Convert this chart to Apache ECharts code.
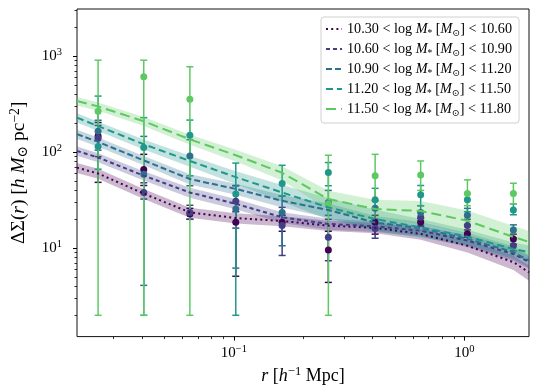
<!DOCTYPE html>
<html>
<head>
<meta charset="utf-8">
<script src="https://cdn.jsdelivr.net/npm/echarts@6/dist/echarts.min.js"></script>
<style>
  html, body { margin: 0; padding: 0; background: #fff; }
  #chart { width: 539px; height: 390px; }
</style>
</head>
<body>
<div id="chart"></div>
<script>
// stellar-mass bins (log M*)
const binLo = ['10.30', '10.60', '10.90', '11.20', '11.50'];
const binHi = ['10.60', '10.90', '11.20', '11.50', '11.80'];

// model curves: r in h^-1 Mpc, ΔΣ in h M_sun pc^-2, band = fractional half width
const modelR = [0.0209, 0.0258, 0.0407, 0.0645, 0.102, 0.162, 0.257, 0.41, 0.646, 1.03, 1.63, 1.905];
const model1 = [69, 60, 37, 23.6, 20.6, 19.2, 17.2, 16.3, 14.1, 10.6, 7.15, 5.6];
const model2 = [103, 88, 57, 38, 29, 21, 17.9, 16.9, 15.2, 12, 8.7, 7.2];
const model3 = [154, 128, 82, 52.5, 41.4, 31.2, 25, 18.5, 16.2, 12.5, 9.1, 7.4];
const model4 = [229, 187, 121, 81, 55, 38, 26.6, 20.1, 16.5, 13.2, 9.8, 9.1];
const model5 = [341, 300, 210, 136, 93, 61, 32.5, 25.6, 24.4, 19.3, 13.1, 11.6];
const band1 = [0.12, 0.12, 0.12, 0.12, 0.12, 0.12, 0.12, 0.12, 0.13, 0.15, 0.17, 0.18];
const band2 = [0.11, 0.11, 0.11, 0.12, 0.12, 0.13, 0.13, 0.13, 0.13, 0.14, 0.15, 0.15];
const band3 = [0.11, 0.11, 0.11, 0.12, 0.13, 0.15, 0.17, 0.17, 0.16, 0.15, 0.15, 0.15];
const band4 = [0.11, 0.11, 0.12, 0.13, 0.15, 0.2, 0.25, 0.25, 0.22, 0.18, 0.17, 0.17];
const band5 = [0.1, 0.1, 0.11, 0.12, 0.14, 0.17, 0.22, 0.25, 0.27, 0.28, 0.3, 0.3];

// measurements with error bars
const dataR = [0.0258, 0.0407, 0.0645, 0.102, 0.162, 0.257, 0.41, 0.646, 1.03, 1.63];
const obs1 = [147, 66, 22.7, 18.6, 18.6, 9.6, 18.6, 18.6, 14.1, 12.5];
const lo1 = [48.5, 45, 20, 5.1, 15, 4.4, 14, 16.9, 13, 11];
const hi1 = [204, 95, 26, 24, 22, 15, 22, 20.5, 15.5, 14];
const obs2 = [140, 38, 23.5, 30.8, 17.2, 13, 16, 21, 17.2, 10.6];
const lo2 = [90, 32.5, 20, 16.2, 8.4, 7.4, 12.7, 17.2, 14, 9.4];
const hi2 = [190, 48, 28, 45, 26.6, 20, 20, 24, 20, 12.6];
const obs3 = [165, 59, 91, 25.6, 23.6, 30, 26, 23.6, 22, 15.5];
const lo3 = [105, 4.1, 44.7, 6.2, 10.6, 22, 20, 19.4, 17.5, 12.7];
const hi3 = [215, 146, 135, 44.6, 35, 40, 31.4, 27.7, 26, 17.5];
const obs4 = [114.6, 112, 150, 36.6, 47.3, 61.5, 32, 36, 31.9, 25];
const lo4 = [66.5, 2, 56.7, 2, 35, 44.7, 26, 27.7, 24, 22.3];
const hi4 = [384, 229, 216, 77, 73, 78, 42, 45, 37, 29];
const obs5 = [267, 611, 355, null, null, 29, 56.7, 58, 37.2, 37.2];
const lo5 = [2, 2, 2, null, null, 2, 31, 40, 27.7, 29];
const hi5 = [908, 908, 776, null, null, 93, 95, 81, 51.5, 47.5];

// axis ranges and ticks
const xMin = 0.0209, xMax = 1.905, yMin = 1.2, yMax = 3100;
const xMajor = [0.1, 1];
const xMinor = [0.03, 0.04, 0.05, 0.06, 0.07, 0.08, 0.09, 0.2, 0.3, 0.4, 0.5, 0.6, 0.7, 0.8, 0.9];
const yMajor = [10, 100, 1000];
const yMinor = [2, 3, 4, 5, 6, 7, 8, 9, 20, 30, 40, 50, 60, 70, 80, 90,
  200, 300, 400, 500, 600, 700, 800, 900, 2000, 3000];

const models = [model1, model2, model3, model4, model5];
const bands = [band1, band2, band3, band4, band5];
const obs = [obs1, obs2, obs3, obs4, obs5];
const los = [lo1, lo2, lo3, lo4, lo5];
const his = [hi1, hi2, hi3, hi4, hi5];

const colors = ['#440154', '#433e85', '#2d708e', '#1f988b', '#5ec962'];
const dashes = [[2, 3.2], [4, 3], [6, 3], [7, 4], [10, 5]];
const FONT = 'Liberation Serif, DejaVu Serif, serif';
const L = Math.log10;
const names = binLo.map((lo, i) => lo + ' < log M* [M⊙] < ' + binHi[i]);

const series = [];
models.forEach((m, i) => {
  const c = colors[i];
  const w = bands[i];
  // shaded band: one polygon through the model's upper and lower edges
  series.push({
    type: 'custom', silent: true,
    encode: { x: 0, y: 1 },
    data: [[L(modelR[0]), L(m[0])]],
    renderItem: (params, api) => {
      const up = modelR.map((r, k) => api.coord([L(r), L(m[k] * (1 + w[k]))]));
      const dn = modelR.map((r, k) => api.coord([L(r), L(m[k] * (1 - w[k]))])).reverse();
      return { type: 'polygon', shape: { points: up.concat(dn) }, style: { fill: c, opacity: 0.28 } };
    }
  });
  series.push({
    type: 'line', name: names[i], symbol: 'none',
    lineStyle: { color: c, width: 2, type: dashes[i] },
    itemStyle: { color: c },
    data: modelR.map((r, k) => [L(r), L(m[k])])
  });
  const pts = [];
  dataR.forEach((r, k) => {
    if (obs[i][k] == null) return;
    pts.push([L(r), L(obs[i][k]), L(los[i][k]), L(his[i][k])]);
  });
  series.push({
    type: 'custom', silent: true,
    encode: { x: 0, y: 1 },
    data: pts,
    renderItem: (params, api) => {
      const x = api.value(0);
      const a = api.coord([x, api.value(2)]);
      const b = api.coord([x, api.value(3)]);
      const hw = 3.5;
      const st = { stroke: c, lineWidth: 1.5 };
      return {
        type: 'group',
        children: [
          { type: 'line', shape: { x1: a[0], y1: a[1], x2: b[0], y2: b[1] }, style: st },
          { type: 'line', shape: { x1: a[0] - hw, y1: a[1], x2: a[0] + hw, y2: a[1] }, style: st },
          { type: 'line', shape: { x1: b[0] - hw, y1: b[1], x2: b[0] + hw, y2: b[1] }, style: st }
        ]
      };
    }
  });
  series.push({
    type: 'scatter', symbolSize: 7, silent: true,
    itemStyle: { color: c, opacity: 1 },
    data: pts.map(p => [p[0], p[1]])
  });
});

const tickRich = {
  b: { fontFamily: FONT, fontSize: 15, color: '#000', lineHeight: 18 },
  s: { fontFamily: FONT, fontSize: 10.5, color: '#000', lineHeight: 10, verticalAlign: 'top' }
};
const powLabel = v => '{b|10}{s|' + String(Math.round(v)).replace('-', '−') + '}';

const nameRich = size => ({
  t: { fontFamily: FONT, fontSize: size, color: '#000', lineHeight: 22 },
  i: { fontFamily: FONT, fontSize: size, fontStyle: 'italic', color: '#000', lineHeight: 22 },
  s: { fontFamily: FONT, fontSize: size * 0.7, color: '#000', lineHeight: 12, verticalAlign: 'bottom' },
  p: { fontFamily: FONT, fontSize: size * 0.7, color: '#000', lineHeight: 12, verticalAlign: 'top' }
});

const chart = echarts.init(document.getElementById('chart'));
chart.setOption({
  animation: false,
  backgroundColor: '#fff',
  grid: {
    left: 69, right: 10, top: 9, bottom: 52,
    show: true, borderColor: '#111', borderWidth: 1, backgroundColor: 'transparent'
  },
  legend: {
    data: names,
    orient: 'vertical',
    left: 321, top: 17,
    padding: [5, 7, 5, 4],
    itemWidth: 16, itemHeight: 10, itemGap: 4,
    itemStyle: { color: 'rgba(0,0,0,0)', borderWidth: 0, opacity: 0 },
    backgroundColor: 'rgba(255,255,255,0.8)',
    borderColor: '#d0d0d0', borderWidth: 1, borderRadius: 3,
    formatter: name => {
      const k = names.indexOf(name);
      return '{t|' + binLo[k] + ' < log }{i|M}{s|*}{t| [}{i|M}{s|⊙}{t|] < ' + binHi[k] + '}';
    },
    textStyle: {
      rich: {
        t: { fontFamily: FONT, fontSize: 14.2, color: '#000', lineHeight: 18 },
        i: { fontFamily: FONT, fontSize: 14.2, fontStyle: 'italic', color: '#000', lineHeight: 18 },
        s: { fontFamily: FONT, fontSize: 9.5, color: '#000', lineHeight: 9, verticalAlign: 'bottom' }
      }
    }
  },
  xAxis: [{
    type: 'value', min: L(xMin), max: L(xMax),
    axisLine: { show: false, onZero: false }, splitLine: { show: false },
    axisTick: { customValues: xMajor.map(L), length: 4, lineStyle: { color: '#000', width: 1 } },
    axisLabel: { customValues: xMajor.map(L), formatter: powLabel, margin: 7, rich: tickRich },
    name: '{i|r}{t| [}{i|h}{p|−1}{t| Mpc]}',
    nameLocation: 'middle', nameGap: 21,
    nameTextStyle: { rich: nameRich(18) }
  }, {
    type: 'value', min: L(xMin), max: L(xMax), position: 'bottom',
    axisLine: { show: false, onZero: false }, splitLine: { show: false },
    axisTick: { customValues: xMinor.map(L), length: 2.5, lineStyle: { color: '#000', width: 0.8 } },
    axisLabel: { show: false }
  }],
  yAxis: [{
    type: 'value', min: L(yMin), max: L(yMax),
    axisLine: { show: false, onZero: false }, splitLine: { show: false },
    axisTick: { customValues: yMajor.map(L), length: 4, lineStyle: { color: '#000', width: 1 } },
    axisLabel: { customValues: yMajor.map(L), formatter: powLabel, margin: 15, rich: tickRich },
    name: '{t|ΔΣ(}{i|r}{t|) [}{i|h M}{s|⊙}{t| pc}{p|−2}{t|]}',
    nameLocation: 'middle', nameGap: 47, nameRotate: 90,
    nameTextStyle: { rich: nameRich(19.5) }
  }, {
    type: 'value', min: L(yMin), max: L(yMax), position: 'left',
    axisLine: { show: false, onZero: false }, splitLine: { show: false },
    axisTick: { customValues: yMinor.map(L), length: 2.5, lineStyle: { color: '#000', width: 0.8 } },
    axisLabel: { show: false }
  }],
  series: series
});
</script>
</body>
</html>
